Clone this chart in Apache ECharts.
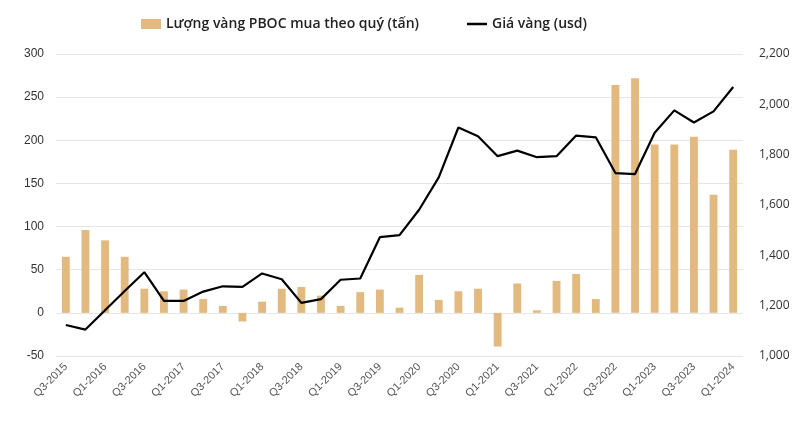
<!DOCTYPE html>
<html>
<head>
<meta charset="utf-8">
<script src="https://cdn.jsdelivr.net/npm/echarts@6/dist/echarts.min.js"></script>
<style>html,body{margin:0;padding:0;background:#fff}#c{width:800px;height:421px}</style>
</head>
<body>
<div id="c"></div>
<script>
var categories = (function(){
  var out = ['Q3-2015','Q4-2015'];
  for (var y = 2016; y <= 2023; y++) { for (var q = 1; q <= 4; q++) out.push('Q' + q + '-' + y); }
  out.push('Q1-2024');
  return out;
})();
var pbocTonnes = [65, 96, 84, 65, 28, 25, 27, 16, 8, -10, 13, 28, 30, 20, 8, 24, 27, 6, 44, 15, 25, 28, -39, 34, 3, 37, 45, 16, 264, 272, 195, 195, 204, 137, 189];
var goldPrice = [1123, 1105, 1182, 1258, 1333, 1219, 1219, 1256, 1277, 1275, 1328, 1305, 1211, 1226, 1303, 1308, 1472, 1480, 1581, 1710, 1908, 1873, 1794, 1816, 1790, 1794, 1876, 1869, 1727, 1723, 1887, 1976, 1928, 1972, 2069];
var seriesNames = ['Lượng vàng PBOC mua theo quý (tấn)', 'Giá vàng (usd)'];

var chart = echarts.init(document.getElementById('c'));
chart.setOption({
  animation: false,
  textStyle: { fontFamily: 'Liberation Sans' },
  legend: {
    top: 12, left: 136, itemGap: 48, itemWidth: 20, itemHeight: 10,
    textStyle: { fontSize: 14, fontWeight: 600, color: '#222', fontFamily: 'Open Sans' },
    data: [
      { name: seriesNames[0], icon: 'rect' },
      { name: seriesNames[1], icon: 'path://M0,0 L20,0 L20,2.5 L0,2.5 Z', itemStyle: { color: '#000' } }
    ]
  },
  grid: { left: 56, right: 57, top: 54, bottom: 65 },
  xAxis: {
    type: 'category', data: categories, boundaryGap: true,
    axisLine: { show: false }, axisTick: { show: false },
    axisLabel: { interval: 1, rotate: 45, fontSize: 11, color: '#555', margin: 9 }
  },
  yAxis: [
    {
      type: 'value', min: -50, max: 300, interval: 50,
      axisLine: { show: false }, axisTick: { show: false },
      axisLabel: { fontSize: 12, color: '#333', margin: 12 },
      splitLine: { lineStyle: { color: '#e6e6e6', width: 1 } }
    },
    {
      type: 'value', min: 1000, max: 2200, interval: 200,
      axisLine: { show: false }, axisTick: { show: false },
      axisLabel: { fontSize: 12, color: '#333', margin: 16, fontFamily: 'Open Sans',
        formatter: function(v){ return v.toLocaleString('en-US'); } },
      splitLine: { show: false }
    }
  ],
  series: [
    {
      name: seriesNames[0], type: 'bar', data: pbocTonnes, barWidth: '40%',
      itemStyle: { color: '#E2B97F' }
    },
    {
      name: seriesNames[1], type: 'line', yAxisIndex: 1, data: goldPrice,
      symbol: 'none', lineStyle: { color: '#000', width: 2.2 }, itemStyle: { color: '#000' }
    }
  ]
});
</script>
</body>
</html>
